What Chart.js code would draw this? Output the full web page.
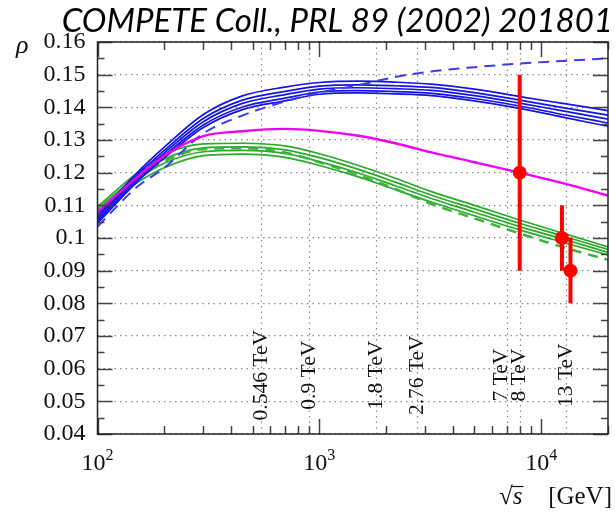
<!DOCTYPE html>
<html>
<head>
<meta charset="utf-8">
<script src="https://cdn.jsdelivr.net/npm/chart.js@4/dist/chart.umd.min.js"></script>
<style>
  html, body { margin: 0; padding: 0; background: #fff; }
</style>
</head>
<body>
<canvas id="rhoCanvas" width="615" height="512"></canvas>
<script>
// sqrt(s) grid the fit curves are sampled on [GeV]
let energies = [100, 150, 200, 300, 450, 700, 1000, 1500, 2200, 3200, 5000, 8000, 12500, 20000];

// blue band of fits (top to bottom) and the blue dashed one
let blueFits = [
    [0.1068, 0.1198, 0.1278, 0.1378, 0.1435, 0.1462, 0.1476, 0.1480, 0.1477, 0.1471, 0.1456, 0.1433, 0.1412, 0.1390],
    [0.1061, 0.1190, 0.1268, 0.1366, 0.1422, 0.1449, 0.1465, 0.1469, 0.1466, 0.1461, 0.1445, 0.1422, 0.1399, 0.1376],
    [0.1055, 0.1183, 0.1260, 0.1356, 0.1412, 0.1439, 0.1456, 0.1460, 0.1457, 0.1452, 0.1436, 0.1413, 0.1389, 0.1364],
    [0.1050, 0.1176, 0.1252, 0.1346, 0.1401, 0.1428, 0.1447, 0.1451, 0.1448, 0.1443, 0.1427, 0.1404, 0.1378, 0.1352],
    [0.1045, 0.1170, 0.1245, 0.1338, 0.1393, 0.1420, 0.1440, 0.1444, 0.1441, 0.1436, 0.1420, 0.1397, 0.1370, 0.1342]
];
let blueDashed = [0.1035, 0.1155, 0.1215, 0.1320, 0.1375, 0.1418, 0.1445, 0.1468, 0.1493, 0.1510, 0.1523, 0.1534, 0.1542, 0.1550];

// green band of fits and the green dashed one
let greenFits = [
    [0.1096, 0.1198, 0.1255, 0.1288, 0.1290, 0.1282, 0.1258, 0.1222, 0.1183, 0.1142, 0.1100, 0.1055, 0.1015, 0.0973],
    [0.1089, 0.1188, 0.1242, 0.1276, 0.1279, 0.1270, 0.1246, 0.1210, 0.1171, 0.1131, 0.1089, 0.1045, 0.1006, 0.0965],
    [0.1082, 0.1178, 0.1229, 0.1264, 0.1268, 0.1259, 0.1234, 0.1199, 0.1160, 0.1121, 0.1079, 0.1035, 0.0997, 0.0956],
    [0.1075, 0.1168, 0.1215, 0.1252, 0.1257, 0.1247, 0.1222, 0.1187, 0.1148, 0.1110, 0.1068, 0.1025, 0.0987, 0.0948]
];
let greenDashed = [0.1080, 0.1180, 0.1235, 0.1272, 0.1275, 0.1262, 0.1232, 0.1193, 0.1150, 0.1104, 0.1060, 0.1014, 0.0972, 0.0933];

let magentaFit = [0.1080, 0.1185, 0.1252, 0.1312, 0.1327, 0.1334, 0.1328, 0.1313, 0.1290, 0.1262, 0.1232, 0.1200, 0.1168, 0.1130];

// LHC measurements
let measuredEnergy = [8000, 12400, 13550];
let measuredRho = [0.12, 0.10, 0.09];
let measuredErr = [0.03, 0.01, 0.01];

// collider energies marked on the plot
let markerEnergy = [546, 900, 1800, 2760, 7000, 8000, 13000];
let markerLabels = ["0.546 TeV", "0.9 TeV", "1.8 TeV", "2.76 TeV", "7 TeV", "8 TeV", "13 TeV"];

let decadeTicks = [100, 1000, 10000];
let decadeExponents = ["2", "3", "4"];

let serif = '"Liberation Serif", "Times New Roman", serif';

function points(values) {
    return values.map((v, i) => ({ x: energies[i], y: v }));
}

let datasets = [];
datasets.push({
    type: 'scatter',
    data: measuredEnergy.map((e, i) => ({ x: e, y: measuredRho[i] })),
    pointRadius: 7,
    pointBackgroundColor: '#ff0000',
    pointBorderWidth: 0,
    order: 0
});
datasets.push({ data: points(magentaFit), borderColor: '#f000f0', borderWidth: 2.4, order: 1 });
datasets.push({ data: points(blueDashed), borderColor: '#3b3bf0', borderWidth: 2, borderDash: [11, 7], order: 2 });
for (let i = 0; i < blueFits.length; i++) {
    datasets.push({ data: points(blueFits[i]), borderColor: '#1414e6', borderWidth: 1.7, order: 3 });
}
datasets.push({ data: points(greenDashed), borderColor: '#3cb43c', borderWidth: 2.5, borderDash: [10, 7], order: 4 });
for (let i = 0; i < greenFits.length; i++) {
    datasets.push({ data: points(greenFits[i]), borderColor: '#28aa28', borderWidth: 1.7, order: 5 });
}
datasets.forEach(d => {
    if (d.type !== 'scatter') {
        d.type = 'line';
        d.pointRadius = 0;
        d.fill = false;
        d.cubicInterpolationMode = 'monotone';
    }
});

// error bars, energy markers, inward ticks, frame and the text around the plot
let decorations = {
    id: 'decorations',
    beforeDatasetsDraw(chart) {
        let { ctx, chartArea: a, scales: { x, y } } = chart;
        ctx.save();
        ctx.strokeStyle = '#8a8a8a';
        ctx.lineWidth = 1.2;
        ctx.setLineDash([1.5, 4]);
        markerEnergy.forEach(e => {
            let xp = Math.round(x.getPixelForValue(e)) + 0.5;
            ctx.beginPath();
            ctx.moveTo(xp, a.top);
            ctx.lineTo(xp, a.bottom);
            ctx.stroke();
        });
        ctx.setLineDash([]);
        ctx.fillStyle = '#111';
        ctx.font = '21.5px ' + serif;
        ctx.textAlign = 'center';
        ctx.textBaseline = 'middle';
        markerEnergy.forEach((e, i) => {
            let xp = x.getPixelForValue(e);
            let next = markerEnergy[i + 1];
            if (next && x.getPixelForValue(next) - xp < 16) xp -= 5;
            ctx.save();
            ctx.translate(xp, y.getPixelForValue(0.058));
            ctx.rotate(-Math.PI / 2);
            ctx.fillText(markerLabels[i], 0, 0);
            ctx.restore();
        });
        ctx.restore();
    },
    afterDatasetsDraw(chart) {
        let { ctx, scales: { x, y } } = chart;
        ctx.save();
        ctx.strokeStyle = '#ff0000';
        ctx.lineWidth = 4;
        measuredEnergy.forEach((e, i) => {
            let xp = x.getPixelForValue(e);
            ctx.beginPath();
            ctx.moveTo(xp, y.getPixelForValue(measuredRho[i] - measuredErr[i]));
            ctx.lineTo(xp, y.getPixelForValue(measuredRho[i] + measuredErr[i]));
            ctx.stroke();
        });
        ctx.restore();
    },
    afterDraw(chart) {
        let { ctx, chartArea: a, scales: { x, y } } = chart;
        ctx.save();
        ctx.strokeStyle = '#444';
        ctx.lineWidth = 1.5;

        // y ticks on both sides
        for (let k = 0; k <= 24; k++) {
            let v = 0.04 + k * 0.005;
            let yp = Math.round(y.getPixelForValue(v)) + 0.5;
            let len = k % 2 === 0 ? 15 : 7;
            ctx.beginPath();
            ctx.moveTo(a.left, yp); ctx.lineTo(a.left + len, yp);
            ctx.moveTo(a.right, yp); ctx.lineTo(a.right - len, yp);
            ctx.stroke();
        }
        // x ticks top and bottom
        for (let d = 100; d <= 10000; d *= 10) {
            for (let m = 1; m <= 9; m++) {
                let v = d * m;
                if (v > 20000) break;
                let xp = Math.round(x.getPixelForValue(v)) + 0.5;
                let len = m === 1 ? 15 : 8;
                ctx.beginPath();
                ctx.moveTo(xp, a.bottom); ctx.lineTo(xp, a.bottom - len);
                ctx.moveTo(xp, a.top); ctx.lineTo(xp, a.top + len);
                ctx.stroke();
            }
        }
        ctx.strokeStyle = '#222';
        ctx.strokeRect(a.left, a.top, a.right - a.left, a.bottom - a.top);

        // decade labels 10^n
        ctx.fillStyle = '#111';
        ctx.textBaseline = 'alphabetic';
        ctx.textAlign = 'left';
        decadeTicks.forEach((v, i) => {
            let xp = x.getPixelForValue(v);
            ctx.font = '24px ' + serif;
            let wBase = ctx.measureText('10').width;
            ctx.font = '16px ' + serif;
            let wExp = ctx.measureText(decadeExponents[i]).width;
            let x0 = xp - (wBase + wExp) / 2;
            ctx.font = '24px ' + serif;
            ctx.fillText('10', x0, 470);
            ctx.font = '16px ' + serif;
            ctx.fillText(decadeExponents[i], x0 + wBase, 460);
        });

        // axis title: sqrt(s) [GeV]
        ctx.font = '25px ' + serif;
        ctx.textAlign = 'right';
        ctx.fillText('[GeV]', 612, 504);
        ctx.textAlign = 'left';
        ctx.fillText('\u221A', 499, 504);
        let wRoot = ctx.measureText('\u221A').width;
        ctx.font = 'italic 25px ' + serif;
        ctx.fillText('s', 499 + wRoot, 504);
        let wS = ctx.measureText('s').width;
        ctx.lineWidth = 1.2;
        ctx.strokeStyle = '#111';
        ctx.beginPath();
        ctx.moveTo(499 + wRoot - 1, 486.5);
        ctx.lineTo(499 + wRoot + wS + 1, 486.5);
        ctx.stroke();

        // rho label
        ctx.font = 'italic 26px ' + serif;
        ctx.fillText('\u03C1', 16, 53);

        // reference line on top
        ctx.font = 'italic 33px Lato, "Open Sans", sans-serif';
        ctx.textAlign = 'right';
        ctx.fillStyle = '#000';
        ctx.fillText('COMPETE Coll., PRL 89 (2002) 201801', 613, 32);
        ctx.restore();
    }
};

let canvas = document.getElementById("rhoCanvas");
let ctx = canvas.getContext("2d");

let rhoChart = new Chart(ctx, {
    data: { datasets: datasets },
    options: {
        responsive: false,
        animation: false,
        layout: { padding: { top: 42, right: 3, left: 0, bottom: 0 } },
        plugins: { legend: { display: false }, tooltip: { enabled: false } },
        scales: {
            x: {
                type: 'logarithmic',
                min: 100,
                max: 20000,
                ticks: { display: false },
                grid: { display: false },
                border: { display: false },
                afterFit: s => { s.height = 78; }
            },
            y: {
                type: 'linear',
                min: 0.04,
                max: 0.16,
                ticks: {
                    stepSize: 0.01,
                    padding: 12,
                    color: '#111',
                    font: { family: serif, size: 24 },
                    callback: v => String(+v.toFixed(2))
                },
                grid: { color: '#8a8a8a', lineWidth: 1.2, drawTicks: false },
                border: { display: false, dash: [1.5, 4] },
                afterFit: s => { s.width = 97.5; }
            }
        }
    },
    plugins: [decorations]
});
</script>
</body>
</html>
